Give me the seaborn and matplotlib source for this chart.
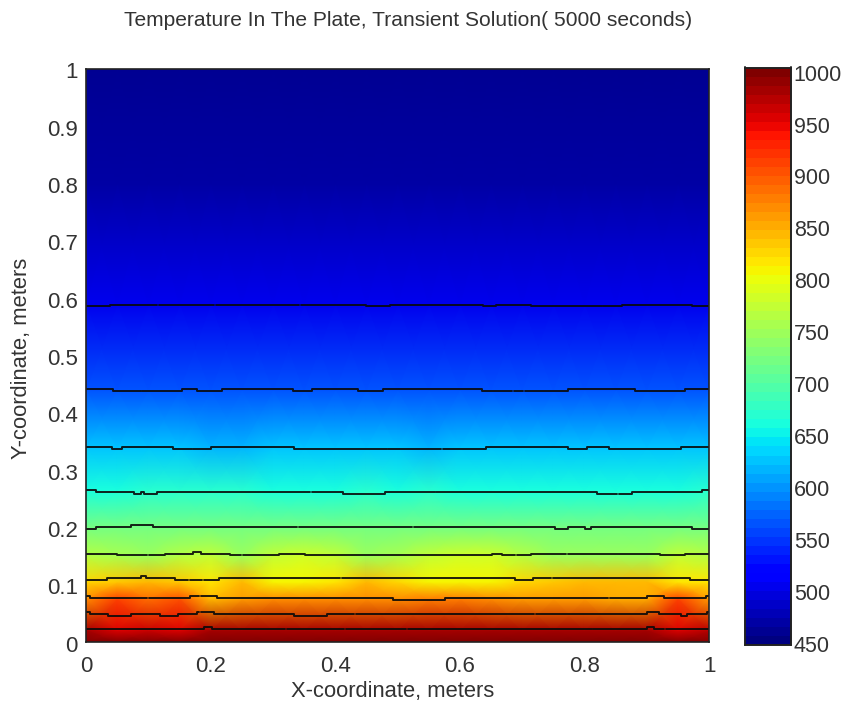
import bisect

import numpy as np
import pandas as pd
import seaborn as sns
import matplotlib.pyplot as plt
from matplotlib.transforms import ScaledTranslation

x_nodes = [0, .05, .1, .15, .2, .25, .3, .35, .4, .45, .5, .55, .6, .65, .7, .75, .8, .85, .9, .95, 1]
y_nodes = [0, .02, .075, .105, .15, .2, .265, .34, .44, .59, .8, 1]

# temperatura, una fila por cada y_nodes
t_000 = [1000] * 21
t_002 = [978, 956, 965, 956, 985, 985, 982, 982, 982, 982, 982, 982, 982, 982, 982, 985, 985, 985, 982, 952, 975]
t_008 = [868, 908, 885, 905, 845, 862, 872, 872, 868, 866, 872, 880, 880, 870, 860, 858, 858, 855, 852, 915, 862]
t_010 = [822, 832, 840, 830, 815, 838, 808, 806, 812, 838, 826, 808, 806, 804, 826, 836, 840, 840, 842, 812, 815]
t_015 = [762, 757, 748, 760, 773, 750, 775, 778, 772, 748, 757, 776, 778, 780, 760, 750, 748, 748, 746, 772, 768]
t_020 = [722] * 21
t_026 = [664, 664, 666, 668, 672, 672, 664, 660, 664, 668, 662, 672, 664, 660, 658, 658, 660, 660, 660, 664, 668]
t_034 = [622, 625, 625, 625, 615, 615, 625, 625, 622, 622, 625, 615, 622, 625, 625, 625, 625, 625, 625, 622, 622]
t_044 = [565] * 21
t_059 = [500] * 21
t_080 = [472] * 21
t_100 = [456] * 21
filas = [t_000, t_002, t_008, t_010, t_015, t_020, t_026, t_034, t_044, t_059, t_080, t_100]

# isotermas: saltos en x y altura de cada tramo
niveles = [500, 550, 600, 650, 700, 750, 800, 850, 900, 950]
x_500 = [0, .039, .45, .488, .638, .658, .714, .86, .972, 1]
y_500 = [.586, .589, .586, .589, .586, .589, .586, .589, .586]
x_550 = [0, .044, .154, .178, .219, .333, .362, .436, .477, .635, .774, .881, .961, 1]
y_550 = [.441, .438, .441, .438, .441, .438, .441, .438, .441, .438, .441, .438, .441]
x_600 = [0, .041, .057, .14, .2, .334, .642, .774, .804, .84, .955, 1]
y_600 = [.34, .336, .34, .336, .34, .336, .34, .336, .34, .336, .34]
x_650 = [0, .016, .077, .088, .093, .114, .412, .48, .821, .876, .988, 1]
y_650 = [.265, .262, .258, .262, .258, .262, .258, .262, .258, .262, .265]
x_700 = [0, .016, .072, .107, .753, .774, .801, .81, .972, 1]
y_700 = [.198, .201, .205, .201, .198, .201, .198, .201, .198]
x_750 = [0, .049, .127, .172, .184, .231, .31, .351, .651, .667, .714, .922, .961, 1]
y_750 = [.154, .151, .154, .157, .154, .151, .154, .151, .154, .151, .154, .151, .154]
x_800 = [0, .033, .088, .096, .143, .214, .689, .717, .969, 1]
y_800 = [.109, .112, .116, .112, .109, .112, .109, .112, .109]
x_850 = [0, .006, .167, .21, .493, .576, .9, .928, .995, 1]
y_850 = [.08, .076, .08, .076, .073, .076, .08, .076, .08]
x_900 = [0, .006, .036, .073, .118, .148, .178, .205, .334, .387, .9, .92, .955, .964, .996, 1]
y_900 = [.053, .049, .046, .049, .046, .049, .053, .049, .046, .049, .053, .049, .046, .049, .053]
x_950 = [0, .189, .203, .9, .912, 1]
y_950 = [.022, .026, .022, .026, .022]
saltos_x = [x_500, x_550, x_600, x_650, x_700, x_750, x_800, x_850, x_900, x_950]
saltos_y = [y_500, y_550, y_600, y_650, y_700, y_750, y_800, y_850, y_900, y_950]

# pequenos cortes blancos en las lineas
cortes = [[.116, .207, .343, .829], [.089, .685, .703], [.171, .484, .572], [.361, .561, .854], [.34, .525],
          [.1, .25, .69, .772], [.165, .188, .41, .748], [.1, .183, .84], [.183, .432, .721],
          [.321, .416, .515, .813, .93]]

ticks_x = [0, .2, .4, .6, .8, 1]
ticks_y = [0, .1, .2, .3, .4, .5, .6, .7, .8, .9, 1]
ticks_barra = [450, 500, 550, 600, 650, 700, 750, 800, 850, 900, 950, 1000]


def tramos(xs, ys, gaps):
    # separa una isoterma en trozos segun los cortes
    bordes = [0] + [g for g in gaps] + [1]
    salida = []
    for i in range(len(bordes) - 1):
        a = bordes[i] + (.0015 if i > 0 else 0)
        b = bordes[i + 1] - (.0015 if i < len(bordes) - 2 else 0)
        px = [a] + [v for v in xs if a < v < b] + [b]
        py = [ys[min(bisect.bisect_right(xs, v) - 1, len(ys) - 1)] for v in px]
        salida.append((px, py))
    return salida


sns.set_style('white')
plt.rcParams['font.family'] = ['Liberation Sans', 'DejaVu Sans']
color_texto = '#333333'

fig = plt.figure(figsize=(8.46, 7.06), dpi=100)
ax = fig.add_axes([86 / 846, 1 - 642 / 706, 623 / 846, 573 / 706])
cax = fig.add_axes([745 / 846, 1 - 645 / 706, 46 / 846, 577.5 / 706])

df = pd.DataFrame(filas, index=y_nodes, columns=x_nodes)
sns.heatmap(df, ax=ax, cbar_ax=cax, cmap=plt.get_cmap('jet', 64), vmin=447, vmax=1003,
            cbar_kws={'ticks': ticks_barra})

# shading interp como en matlab: los colores se mezclan entre nodos
malla = ax.collections[0]
xx, yy = np.meshgrid(x_nodes, y_nodes)
malla._coordinates = np.dstack([xx, yy])
malla._shading = 'gouraud'

filas_lineas = []
for n, nivel in enumerate(niveles):
    for k, (px, py) in enumerate(tramos(saltos_x[n], saltos_y[n], cortes[n])):
        for a, b in zip(px, py):
            filas_lineas.append({'x': a, 'y': b, 'trozo': f'{nivel}-{k}'})
lineas = pd.DataFrame(filas_lineas)
sns.lineplot(data=lineas, x='x', y='y', units='trozo', estimator=None, sort=False, color='#0a0a0a',
             linewidth=1.4, alpha=.9, drawstyle='steps-post', ax=ax, legend=False)

ax.set_xlim(0, 1)
ax.set_ylim(0, 1)
ax.set_xticks(ticks_x, ['0', '0.2', '0.4', '0.6', '0.8', '1'], rotation=0)
ax.set_yticks(ticks_y, ['0', '0.1', '0.2', '0.3', '0.4', '0.5', '0.6', '0.7', '0.8', '0.9', '1'], rotation=0)
ax.tick_params(axis='x', length=0, labelsize=16, pad=10, labelcolor=color_texto)
ax.tick_params(axis='y', length=0, labelsize=16, pad=6, labelcolor=color_texto)
ax.set_xlabel('X-coordinate, meters', fontsize=15.8, color=color_texto)
ax.set_ylabel('Y-coordinate, meters', fontsize=15.8, color=color_texto)
ax.xaxis.set_label_coords(393 / 846, 1 - 692 / 706, transform=fig.transFigure)
ax.yaxis.set_label_coords(22 / 846, 1 - 358 / 706, transform=fig.transFigure)
ax.xaxis.label.set_verticalalignment('center')
ax.yaxis.label.set_verticalalignment('center')
for lado in ax.spines.values():
    lado.set_visible(True)
    lado.set_color('#222222')
    lado.set_linewidth(1.2)

cax.tick_params(axis='y', direction='in', length=5, width=1.1, left=True, right=True, color='#111111',
                labelsize=15.5, pad=2, labelcolor=color_texto)
for lado in cax.spines.values():
    lado.set_visible(True)
    lado.set_color('#222222')
    lado.set_linewidth(1.2)

# las etiquetas del original van un poco mas abajo que su marca
bajar_y = ScaledTranslation(0, -4 / 100, fig.dpi_scale_trans)
for t in ax.get_yticklabels():
    t.set_transform(t.get_transform() + bajar_y)
bajar_c = ScaledTranslation(0, -2 / 100, fig.dpi_scale_trans)
for t in cax.get_yticklabels():
    t.set_transform(t.get_transform() + bajar_c)

fig.text(408 / 846, 1 - 21 / 706, 'Temperature In The Plate, Transient Solution( 5000 seconds)',
         ha='center', va='center', fontsize=15.1, color=color_texto)

plt.savefig('out.png', dpi=100)
